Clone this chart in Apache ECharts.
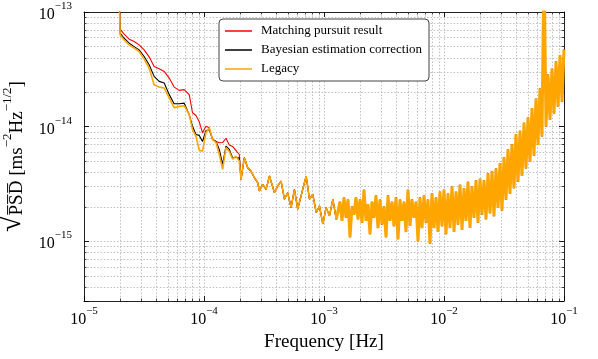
<!DOCTYPE html>
<html>
<head>
<meta charset="utf-8">
<script src="https://cdn.jsdelivr.net/npm/echarts@6/dist/echarts.min.js"></script>
<style>
  html, body { margin: 0; background: #fff; }
  #chart { width: 598px; height: 359px; }
</style>
</head>
<body>
<div id="chart"></div>
<script>
// low-frequency part, where the three estimates differ
const freqLow = [1.95e-5, 2.0e-5, 2.16e-5, 2.38e-5, 2.62e-5, 2.88e-5, 3.17e-5, 3.49e-5, 3.84e-5, 4.23e-5,
  4.66e-5, 5.13e-5, 5.64e-5, 6.21e-5, 6.84e-5, 7.53e-5, 8.02e-5, 8.57e-5, 9.13e-5, 9.72e-5,
  1.038e-4, 1.106e-4, 1.179e-4, 1.259e-4, 1.341e-4, 1.429e-4, 1.525e-4, 1.625e-4, 1.731e-4, 1.841e-4, 1.969e-4];
const matchingLow = [2e-13, 7.08e-14, 6.40e-14, 5.79e-14, 5.52e-14, 5.16e-14, 4.67e-14, 4.06e-14, 3.34e-14, 3.19e-14,
  3.03e-14, 2.65e-14, 2.21e-14, 2.07e-14, 2.10e-14, 1.90e-14, 1.32e-14, 1.25e-14, 1.10e-14, 8.81e-15,
  1.006e-14, 9.74e-15, 7.71e-15, 7.40e-15, 7.21e-15, 7.25e-15, 7.90e-15, 6.90e-15, 6.70e-15, 6.20e-15, 5.70e-15];
const bayesLow = [2e-13, 6.53e-14, 5.90e-14, 5.34e-14, 4.99e-14, 4.67e-14, 4.09e-14, 3.46e-14, 2.74e-14, 2.48e-14,
  2.40e-14, 1.90e-14, 1.58e-14, 1.58e-14, 1.60e-14, 1.27e-14, 1.006e-14, 8.52e-15, 8.37e-15, 7.40e-15,
  9.20e-15, 9.40e-15, 7.71e-15, 7.40e-15, 6.31e-15, 4.67e-15, 6.74e-15, 6.31e-15, 5.34e-15, 5.40e-15, 5.30e-15];
const legacyLow = [2e-13, 6.31e-14, 5.71e-14, 5.16e-14, 4.83e-14, 4.52e-14, 3.88e-14, 3.24e-14, 2.32e-14, 2.21e-14,
  2.17e-14, 1.78e-14, 1.46e-14, 1.50e-14, 1.52e-14, 1.27e-14, 9.40e-15, 8.20e-15, 6.20e-15, 6.10e-15,
  8.86e-15, 9.74e-15, 7.71e-15, 7.25e-15, 5.71e-15, 4.23e-15, 6.55e-15, 6.06e-15, 5.20e-15, 5.50e-15, 5.00e-15];

// from ~2e-4 Hz on the curves lie on top of each other
const freqMid = [2.035e-4, 2.168e-4, 2.311e-4, 2.466e-4, 2.628e-4, 2.800e-4, 2.893e-4, 3.083e-4, 3.291e-4, 3.51e-4,
  3.86e-4, 4.11e-4, 4.39e-4, 4.68e-4, 4.98e-4, 5.32e-4, 5.67e-4, 6.04e-4, 6.65e-4, 7.10e-4,
  7.57e-4, 8.06e-4, 8.61e-4, 9.17e-4, 9.77e-4, 1.043e-3, 1.111e-3, 1.185e-3, 1.265e-3];
const psdMid = [3.46e-15, 5.34e-15, 4.37e-15, 4.09e-15, 3.58e-15, 3.24e-15, 2.74e-15, 3.13e-15, 2.83e-15, 3.70e-15,
  2.65e-15, 3.03e-15, 3.34e-15, 2.32e-15, 2.65e-15, 1.96e-15, 2.83e-15, 1.90e-15, 2.83e-15, 3.70e-15,
  2.32e-15, 2.56e-15, 1.78e-15, 2.03e-15, 1.41e-15, 1.96e-15, 1.66e-15, 2.32e-15, 1.55e-15];

// dense noisy band up to 0.1 Hz
const freqHigh = [1.359e-3, 1.413e-3, 1.468e-3, 1.526e-3, 1.585e-3, 1.647e-3, 1.711e-3, 1.778e-3, 1.848e-3, 1.920e-3,
  1.995e-3, 2.073e-3, 2.154e-3, 2.239e-3, 2.326e-3, 2.418e-3, 2.512e-3, 2.610e-3, 2.712e-3, 2.818e-3,
  2.929e-3, 3.043e-3, 3.162e-3, 3.286e-3, 3.415e-3, 3.548e-3, 3.687e-3, 3.831e-3, 3.981e-3, 4.137e-3,
  4.299e-3, 4.467e-3, 4.642e-3, 4.823e-3, 5.012e-3, 5.208e-3, 5.412e-3, 5.623e-3, 5.843e-3, 6.072e-3,
  6.310e-3, 6.556e-3, 6.813e-3, 7.080e-3, 7.356e-3, 7.644e-3, 7.943e-3, 8.254e-3, 8.577e-3, 8.913e-3,
  9.261e-3, 9.624e-3,
  1.000e-2, 1.039e-2, 1.080e-2, 1.122e-2, 1.166e-2, 1.212e-2, 1.259e-2, 1.308e-2, 1.359e-2, 1.413e-2,
  1.468e-2, 1.526e-2, 1.585e-2, 1.647e-2, 1.711e-2, 1.778e-2, 1.848e-2, 1.920e-2, 1.995e-2, 2.073e-2,
  2.154e-2, 2.239e-2, 2.326e-2, 2.418e-2, 2.512e-2, 2.610e-2, 2.712e-2, 2.818e-2, 2.929e-2, 3.043e-2,
  3.162e-2, 3.286e-2, 3.415e-2, 3.548e-2, 3.687e-2, 3.831e-2, 3.981e-2, 4.137e-2, 4.299e-2, 4.467e-2,
  4.642e-2, 4.823e-2, 5.012e-2, 5.208e-2, 5.412e-2, 5.623e-2, 5.843e-2, 6.072e-2, 6.310e-2, 6.556e-2,
  6.813e-2, 7.080e-2, 7.356e-2, 7.644e-2, 7.943e-2, 8.254e-2, 8.577e-2, 8.913e-2, 9.261e-2, 9.624e-2,
  1.0e-1];
const psdHigh = [2.2e-15, 1.5e-15, 2.4e-15, 1.6e-15, 2.3e-15, 1.08e-15, 2.0e-15, 1.7e-15, 2.4e-15, 1.55e-15,
  2.3e-15, 1.45e-15, 2.8e-15, 1.5e-15, 2.1e-15, 1.15e-15, 2.2e-15, 1.6e-15, 2.5e-15, 1.3e-15,
  2.3e-15, 1.4e-15, 2.0e-15, 1.08e-15, 2.5e-15, 1.5e-15, 2.2e-15, 1.35e-15, 2.4e-15, 1.04e-15,
  2.3e-15, 1.5e-15, 2.2e-15, 1.2e-15, 2.8e-15, 1.36e-15, 2.3e-15, 1.6e-15, 2.2e-15, 1.0e-15,
  2.4e-15, 1.3e-15, 2.5e-15, 1.45e-15, 2.3e-15, 0.95e-15, 2.6e-15, 1.3e-15, 2.4e-15, 1.2e-15,
  2.7e-15, 1.35e-15,
  2.8e-15, 1.15e-15, 2.6e-15, 1.3e-15, 3.0e-15, 1.2e-15, 2.7e-15, 1.4e-15, 3.1e-15, 1.25e-15,
  2.9e-15, 1.5e-15, 3.3e-15, 1.3e-15, 3.0e-15, 1.6e-15, 3.4e-15, 1.45e-15, 3.5e-15, 1.7e-15,
  3.4e-15, 1.55e-15, 3.9e-15, 1.75e-15, 4.1e-15, 1.65e-15, 4.3e-15, 1.95e-15, 4.8e-15, 1.85e-15,
  5.4e-15, 2.3e-15, 6.3e-15, 2.6e-15, 7.0e-15, 2.9e-15, 8.6e-15, 3.3e-15, 9.2e-15, 3.7e-15,
  1.08e-14, 4.3e-15, 1.2e-14, 4.9e-15, 1.45e-14, 5.6e-15, 1.75e-14, 6.9e-15, 2.15e-14, 8.2e-15,
  3e-13, 1.0e-14, 2.85e-14, 1.15e-14, 3.2e-14, 1.3e-14, 3.7e-14, 1.5e-14, 4.2e-14, 1.65e-14,
  4.7e-14];

const X_MIN = 1e-5, X_MAX = 1e-1;
const Y_MIN = 3e-16, Y_MAX = 1e-13;
const xDecades = [1e-5, 1e-4, 1e-3, 1e-2];
const yDecades = [1e-16, 1e-15, 1e-14];
const minorSteps = [2, 3, 4, 5, 6, 7, 8, 9];

const FONT = "'Liberation Serif', 'DejaVu Serif', serif";
const GRID_COLOR = '#b0b0b0';

const zip = (xs, ys) => xs.map((x, i) => [x, ys[i]]);
const midPart = zip(freqMid, psdMid);
const highPart = zip(freqHigh, psdHigh);

const xMinor = xDecades.flatMap(d => minorSteps.map(m => m * d)).filter(v => v > X_MIN && v < X_MAX);
const yMinor = yDecades.flatMap(d => minorSteps.map(m => m * d)).filter(v => v > Y_MIN && v < Y_MAX);

const powLabel = v => {
  const lg = Math.log10(v);
  const e = Math.round(lg);
  if (Math.abs(lg - e) > 1e-6) return '';
  return '{b|10}{s|' + (e < 0 ? '\u2212' + (-e) : e) + '}';
};

const labelRich = {
  b: { fontFamily: FONT, fontSize: 16, lineHeight: 22, verticalAlign: 'bottom', color: '#000' },
  s: { fontFamily: FONT, fontSize: 11, lineHeight: 11, verticalAlign: 'top', color: '#000' }
};

const dotted = { color: GRID_COLOR, width: 0.8, type: [1.5, 1.8] };
const frameTick = { inside: true, length: 5, lineStyle: { color: '#000', width: 0.9 } };

const chart = echarts.init(document.getElementById('chart'));

const lineSeries = (name, color, data, width) => ({
  name,
  type: 'line',
  data,
  showSymbol: false,
  symbol: 'none',
  z: 3,
  lineStyle: { color, width },
  itemStyle: { color }
});

const option = {
  animation: false,
  backgroundColor: '#fff',
  grid: { left: 84, right: 34, top: 12, bottom: 58, outerBoundsMode: 'none' },
  legend: {
    data: ['Matching pursuit result', 'Bayesian estimation correction', 'Legacy'],
    orient: 'vertical',
    left: 219,
    top: 19,
    padding: [5, 7, 5, 6],
    itemGap: 5,
    itemWidth: 27,
    itemHeight: 1.5,
    icon: 'rect',
    backgroundColor: '#fff',
    borderColor: '#444',
    borderWidth: 1,
    borderRadius: 4,
    textStyle: { fontFamily: FONT, fontSize: 13, lineHeight: 14, color: '#000', padding: [0, 0, 0, 4] }
  },
  xAxis: [
    {
      type: 'log', logBase: 10, min: X_MIN, max: X_MAX,
      name: 'Frequency [Hz]', nameLocation: 'middle', nameGap: 29,
      nameTextStyle: { fontFamily: FONT, fontSize: 19, color: '#000' },
      axisLine: { lineStyle: { color: '#222', width: 1 } },
      axisTick: frameTick,
      axisLabel: { formatter: powLabel, rich: labelRich, margin: 5 },
      splitLine: { show: true, lineStyle: dotted }
    },
    {
      type: 'log', logBase: 10, min: X_MIN, max: X_MAX, position: 'top',
      axisLine: { lineStyle: { color: '#222', width: 1 } },
      axisTick: frameTick,
      axisLabel: { show: false },
      splitLine: { show: false }
    }
  ],
  yAxis: [
    {
      type: 'log', logBase: 10, min: Y_MIN, max: Y_MAX,
      name: '{r|\u221a}{o|P\u0305S\u0305D\u0305}{b| [ms}{s|\u22122}{b|Hz}{s|\u22121/2}{b|]}',
      nameLocation: 'middle', nameRotate: 90, nameGap: 57,
      nameTextStyle: {
        rich: {
          r: { fontFamily: FONT, fontSize: 30, lineHeight: 26, verticalAlign: 'bottom', color: '#000' },
          o: { fontFamily: FONT, fontSize: 19, lineHeight: 24, verticalAlign: 'bottom', color: '#000' },
          b: { fontFamily: FONT, fontSize: 19, lineHeight: 24, verticalAlign: 'bottom', color: '#000' },
          s: { fontFamily: FONT, fontSize: 13, lineHeight: 13, verticalAlign: 'top', color: '#000' }
        }
      },
      axisLine: { lineStyle: { color: '#222', width: 1 } },
      axisTick: frameTick,
      axisLabel: { formatter: powLabel, rich: labelRich, margin: 12 },
      splitLine: { show: true, lineStyle: dotted }
    },
    {
      type: 'log', logBase: 10, min: Y_MIN, max: Y_MAX, position: 'right',
      axisLine: { lineStyle: { color: '#222', width: 1 } },
      axisTick: frameTick,
      axisLabel: { show: false },
      splitLine: { show: false }
    }
  ],
  series: [
    // minor grid lines and ticks on the x axis
    {
      type: 'custom', silent: true, z: 1,
      data: xMinor.map(v => [v, Y_MIN]),
      renderItem: (params, api) => {
        const cs = params.coordSys;
        const x = Math.round(api.coord([api.value(0), Y_MIN])[0]) + 0.5;
        const top = cs.y, bottom = cs.y + cs.height;
        return {
          type: 'group',
          children: [
            { type: 'line', shape: { x1: x, y1: top, x2: x, y2: bottom }, style: { stroke: GRID_COLOR, lineWidth: 0.8, lineDash: [1.5, 1.8] } },
            { type: 'line', shape: { x1: x, y1: bottom, x2: x, y2: bottom - 2.5 }, style: { stroke: '#000', lineWidth: 0.7 } },
            { type: 'line', shape: { x1: x, y1: top, x2: x, y2: top + 2.5 }, style: { stroke: '#000', lineWidth: 0.7 } }
          ]
        };
      }
    },
    // minor grid lines and ticks on the y axis
    {
      type: 'custom', silent: true, z: 1,
      data: yMinor.map(v => [X_MIN, v]),
      renderItem: (params, api) => {
        const cs = params.coordSys;
        const y = Math.round(api.coord([X_MIN, api.value(1)])[1]) + 0.5;
        const left = cs.x, right = cs.x + cs.width;
        return {
          type: 'group',
          children: [
            { type: 'line', shape: { x1: left, y1: y, x2: right, y2: y }, style: { stroke: GRID_COLOR, lineWidth: 0.8, lineDash: [1.5, 1.8] } },
            { type: 'line', shape: { x1: left, y1: y, x2: left + 2.5, y2: y }, style: { stroke: '#000', lineWidth: 0.7 } },
            { type: 'line', shape: { x1: right, y1: y, x2: right - 2.5, y2: y }, style: { stroke: '#000', lineWidth: 0.7 } }
          ]
        };
      }
    },
    lineSeries('Matching pursuit result', '#ff0000', zip(freqLow, matchingLow).concat(midPart, highPart), 1.1),
    lineSeries('Bayesian estimation correction', '#000000', zip(freqLow, bayesLow).concat(midPart, highPart), 1.1),
    // legacy curve: thin up to ~1.3 mHz, then the dense noisy band drawn thicker
    lineSeries('Legacy', '#ffa500', zip(freqLow, legacyLow).concat(midPart, highPart.slice(0, 1)), 1.6),
    lineSeries('Legacy', '#ffa500', midPart.slice(-1).concat(highPart), 3)
  ]
};

chart.setOption(option);
window.addEventListener('resize', () => chart.resize());
</script>
</body>
</html>
